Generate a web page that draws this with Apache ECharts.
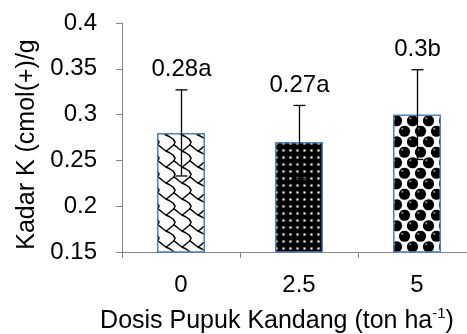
<!DOCTYPE html>
<html>
<head>
<meta charset="utf-8">
<script src="https://cdn.jsdelivr.net/npm/echarts@6/dist/echarts.min.js"></script>
<style>
  html, body { margin: 0; padding: 0; background: #fff; }
  #chart { width: 467px; height: 334px; }
</style>
</head>
<body>
<div id="chart"></div>
<script>
// data
const categories = ['0', '2.5', '5'];
const kadarK = [0.28, 0.27, 0.3];
const errK = [0.047, 0.040, 0.049];
const letters = ['a', 'a', 'b'];
const yMin = 0.15, yMax = 0.4, yStep = 0.05;

const FONT = '"Liberation Sans", Arial, sans-serif';
const axisGray = '#868686';

// fill patterns (Excel-like: shingle, dotted, sphere)
function tile(w, h, draw) {
  const c = document.createElement('canvas');
  c.width = w; c.height = h;
  draw(c.getContext('2d'), w, h);
  return c;
}

const shingle = tile(16, 16, function (g) {
  g.fillStyle = '#fff';
  g.fillRect(0, 0, 16, 16);
  g.strokeStyle = '#000';
  g.lineWidth = 1.5;
  g.lineJoin = 'round';
  g.lineCap = 'round';
  const R = [[7, 0.5], [8.5, 1.5], [9.5, 2.5], [11, 3.5], [13, 4.5], [14.5, 5.5], [15.5, 7], [15, 8.5]];
  const L = [[7, 0.5], [5.5, 1.5], [4.5, 2.5], [3, 3.5]];
  [-8, 0, 8].forEach(function (dx) {
    [-8, 0, 8].forEach(function (dy) {
      [R, L].forEach(function (pts) {
        g.beginPath();
        pts.forEach(function (p, i) {
          const px = (p[0] + dx) * 2, py = (p[1] + dy) * 2;
          if (i) g.lineTo(px, py); else g.moveTo(px, py);
        });
        g.stroke();
      });
    });
  });
});

const dotted = tile(7, 7, function (g) {
  g.fillStyle = '#000';
  g.fillRect(0, 0, 7, 7);
  g.fillStyle = 'rgba(255,255,255,0.35)';
  g.beginPath();
  g.arc(3.5, 3.5, 1.8, 0, Math.PI * 2);
  g.fill();
  g.fillStyle = '#fff';
  g.fillRect(2.75, 2.75, 1.5, 1.5);
});

const spheres = tile(16, 21, function (g, w, h) {
  g.fillStyle = '#fff';
  g.fillRect(0, 0, w, h);
  const base = [[4.5, 5.25], [12.5, 15.75]];
  base.forEach(function (b) {
    [-w, 0, w].forEach(function (dx) {
      [-h, 0, h].forEach(function (dy) {
        const cx = b[0] + dx, cy = b[1] + dy;
        g.fillStyle = '#000';
        g.beginPath();
        g.ellipse(cx, cy, 5.6, 5.6, 0, 0, Math.PI * 2);
        g.fill();
        g.fillStyle = 'rgba(255,255,255,0.55)';
        g.beginPath();
        g.arc(cx - 2.2, cy - 2.4, 1.1, 0, Math.PI * 2);
        g.fill();
      });
    });
  });
});

const patterns = [shingle, dotted, spheres];

const chart = echarts.init(document.getElementById('chart'), null, { renderer: 'canvas' });

chart.setOption({
  animation: false,
  backgroundColor: '#fff',
  grid: {
    left: 122, top: 23, width: 354, height: 229,
    containLabel: false,
    outerBoundsMode: 'none'
  },
  xAxis: {
    type: 'category',
    data: categories,
    boundaryGap: true,
    axisLine: { lineStyle: { color: axisGray, width: 1 } },
    axisTick: { show: true, length: 6, lineStyle: { color: axisGray } },
    axisLabel: { color: '#000', fontSize: 24, fontFamily: FONT, margin: 21 },
    name: '{t|Dosis Pupuk Kandang (ton ha}{s|-1}{t|)}',
    nameLocation: 'middle',
    nameGap: 54,
    nameTextStyle: {
      padding: [0, 44, 0, 0],
      rich: {
        t: { fontSize: 25, fontFamily: FONT, color: '#000', lineHeight: 28, verticalAlign: 'bottom' },
        s: { fontSize: 15, fontFamily: FONT, color: '#000', lineHeight: 28, verticalAlign: 'top' }
      }
    }
  },
  yAxis: {
    type: 'value',
    min: yMin, max: yMax, interval: yStep,
    splitLine: { show: false },
    axisLine: { show: true, lineStyle: { color: axisGray, width: 1 } },
    axisTick: { show: true, length: 6, lineStyle: { color: axisGray } },
    axisLabel: { color: '#000', fontSize: 24, fontFamily: FONT, margin: 25 },
    name: 'Kadar K (cmol(+)/g',
    nameLocation: 'middle',
    nameGap: 81,
    nameTextStyle: { color: '#000', fontSize: 25, fontFamily: FONT, padding: [0, 14, 0, 0] }
  },
  series: [
    {
      type: 'bar',
      barWidth: 48,
      data: kadarK.map(function (v, i) {
        return { value: v, itemStyle: { color: { image: patterns[i], repeat: 'repeat' } } };
      }),
      itemStyle: { borderColor: '#4f81bd', borderWidth: 1.5 },
      z: 2
    },
    {
      type: 'custom',
      z: 5,
      encode: { x: 0, y: 1 },
      data: kadarK.map(function (v, i) { return [i, v, errK[i]]; }),
      renderItem: function (params, api) {
        const i = api.value(0), v = api.value(1), e = api.value(2);
        const top = api.coord([i, v + e]);
        const bot = api.coord([i, v - e]);
        const x = Math.round(top[0]) + 0.5;
        const hw = 6;
        const st = { stroke: '#000', lineWidth: 1.3 };
        return {
          type: 'group',
          children: [
            { type: 'line', shape: { x1: x, y1: top[1], x2: x, y2: bot[1] }, style: st },
            { type: 'line', shape: { x1: x - hw, y1: top[1], x2: x + hw, y2: top[1] }, style: st },
            { type: 'line', shape: { x1: x - hw, y1: bot[1], x2: x + hw, y2: bot[1] }, style: st },
            {
              type: 'text',
              style: {
                text: String(kadarK[i]) + letters[i],
                x: x, y: top[1] - 8,
                align: 'center', verticalAlign: 'bottom',
                fontSize: 24, fontFamily: FONT, fill: '#000'
              }
            }
          ]
        };
      }
    }
  ]
});
</script>
</body>
</html>
